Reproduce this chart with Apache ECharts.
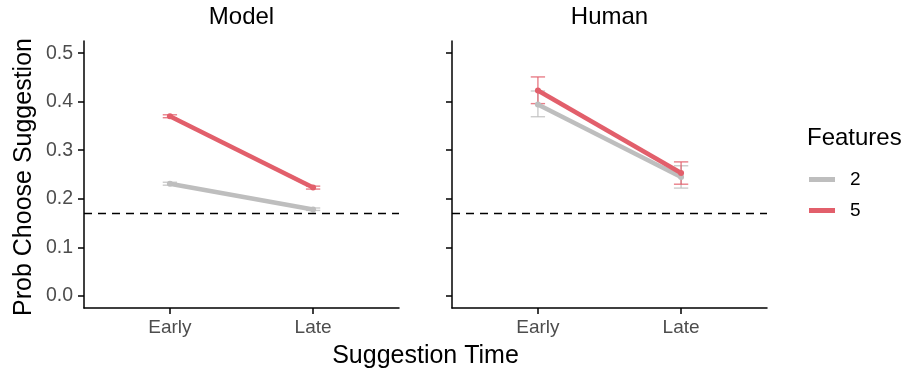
<!DOCTYPE html>
<html>
<head>
<meta charset="utf-8">
<script src="https://cdn.jsdelivr.net/npm/echarts@6/dist/echarts.min.js"></script>
<style>
  html, body { margin: 0; padding: 0; background: #fff; }
  #chart { width: 909px; height: 372px; }
</style>
</head>
<body>
<div id="chart"></div>
<script>
// data
const times = ['Early', 'Late'];
const featureLevels = ['2', '5'];
const yTicks = [0, 0.1, 0.2, 0.3, 0.4, 0.5];
const chanceLevel = 0.1667;

const model2Mean = [0.231, 0.178];
const model2Low = [0.228, 0.176];
const model2High = [0.234, 0.181];
const model5Mean = [0.370, 0.223];
const model5Low = [0.367, 0.220];
const model5High = [0.373, 0.226];

const human2Mean = [0.394, 0.245];
const human2Low = [0.369, 0.222];
const human2High = [0.422, 0.268];
const human5Mean = [0.423, 0.253];
const human5Low = [0.396, 0.230];
const human5High = [0.451, 0.276];

const colors = { '2': '#BEBEBE', '5': '#E25F6B' };
const font = 'Liberation Sans';

function points(mean) {
    return mean.map(function (v, i) { return [i + 1, v]; });
}
function bars(low, high) {
    return low.map(function (v, i) { return [i + 1, v, high[i]]; });
}

// errorbar: vertical segment plus two caps
function renderErr(params, api) {
    const x = api.value(0);
    const lo = api.coord([x, api.value(1)]);
    const hi = api.coord([x, api.value(2)]);
    const l = api.coord([x - 0.05, api.value(1)])[0];
    const r = api.coord([x + 0.05, api.value(1)])[0];
    const style = { stroke: api.visual('color'), lineWidth: 1.4, opacity: 0.8 };
    return {
        type: 'group',
        children: [
            { type: 'line', shape: { x1: lo[0], y1: lo[1], x2: hi[0], y2: hi[1] }, style: style },
            { type: 'line', shape: { x1: l, y1: lo[1], x2: r, y2: lo[1] }, style: style },
            { type: 'line', shape: { x1: l, y1: hi[1], x2: r, y2: hi[1] }, style: style }
        ]
    };
}

function makeX(gridIndex) {
    return {
        type: 'value', gridIndex: gridIndex, min: 0.4, max: 2.6,
        axisLine: { onZero: false, lineStyle: { color: '#000', width: 1.5 } },
        axisTick: { customValues: [1, 2], length: 6, lineStyle: { color: '#000', width: 1.5 } },
        axisLabel: {
            customValues: [1, 2], margin: 10, color: '#4D4D4D', fontSize: 19, fontFamily: font,
            formatter: function (v) { return times[Math.round(v) - 1]; }
        },
        splitLine: { show: false }
    };
}

function makeY(gridIndex, showLabels) {
    return {
        type: 'value', gridIndex: gridIndex, min: -0.025, max: 0.525,
        axisLine: { show: true, onZero: false, lineStyle: { color: '#000', width: 1.5 } },
        axisTick: { show: true, customValues: yTicks, length: 6, lineStyle: { color: '#000', width: 1.5 } },
        axisLabel: {
            show: showLabels, customValues: yTicks, margin: 11, color: '#4D4D4D', fontSize: 19.5, fontFamily: font,
            formatter: function (v) { return v.toFixed(1); }
        },
        splitLine: { show: false }
    };
}

function errSeries(name, gridIndex, low, high) {
    return {
        name: name + ' err', type: 'custom', xAxisIndex: gridIndex, yAxisIndex: gridIndex,
        renderItem: renderErr, itemStyle: { color: colors[name] },
        encode: { x: 0, y: [1, 2] }, data: bars(low, high), z: 2
    };
}

function lineSeries(name, gridIndex, mean, withChance) {
    const s = {
        name: name, type: 'line', xAxisIndex: gridIndex, yAxisIndex: gridIndex,
        data: points(mean), symbol: 'circle', symbolSize: 6,
        itemStyle: { color: colors[name] },
        lineStyle: { color: colors[name], width: 4.5 }, z: 3
    };
    if (withChance) {
        s.markLine = {
            silent: true, symbol: 'none', label: { show: false },
            lineStyle: { color: '#000', type: [8, 6], width: 1.4 },
            data: [{ yAxis: chanceLevel }]
        };
    }
    return s;
}

const chart = echarts.init(document.getElementById('chart'));
chart.setOption({
    animation: false,
    grid: [
        { left: 84, top: 41, width: 315, height: 267 },
        { left: 452, top: 41, width: 315, height: 267 }
    ],
    xAxis: [makeX(0), makeX(1)],
    yAxis: [makeY(0, true), makeY(1, false)],
    legend: {
        data: featureLevels, orient: 'vertical', left: 809, top: 170, padding: 0,
        itemWidth: 26, itemHeight: 5, itemGap: 12, icon: 'rect',
        textStyle: { fontSize: 19, fontFamily: font, color: '#000', padding: [0, 0, 0, 10] }
    },
    graphic: [
        { type: 'text', x: 241.5, y: 17, style: { text: 'Model', fontSize: 24, fontFamily: font, fill: '#000', align: 'center', verticalAlign: 'middle' } },
        { type: 'text', x: 609.5, y: 17, style: { text: 'Human', fontSize: 24, fontFamily: font, fill: '#000', align: 'center', verticalAlign: 'middle' } },
        { type: 'text', x: 425.5, y: 356, style: { text: 'Suggestion Time', fontSize: 25, fontFamily: font, fill: '#000', align: 'center', verticalAlign: 'middle' } },
        { type: 'text', x: 24, y: 177, rotation: Math.PI / 2, style: { text: 'Prob Choose Suggestion', fontSize: 25, fontFamily: font, fill: '#000', align: 'center', verticalAlign: 'middle' } },
        { type: 'text', x: 807, y: 138, style: { text: 'Features', fontSize: 24, fontFamily: font, fill: '#000', align: 'left', verticalAlign: 'middle' } }
    ],
    series: [
        errSeries('2', 0, model2Low, model2High),
        errSeries('5', 0, model5Low, model5High),
        lineSeries('2', 0, model2Mean, true),
        lineSeries('5', 0, model5Mean, false),
        errSeries('2', 1, human2Low, human2High),
        errSeries('5', 1, human5Low, human5High),
        lineSeries('2', 1, human2Mean, true),
        lineSeries('5', 1, human5Mean, false)
    ]
});
</script>
</body>
</html>
